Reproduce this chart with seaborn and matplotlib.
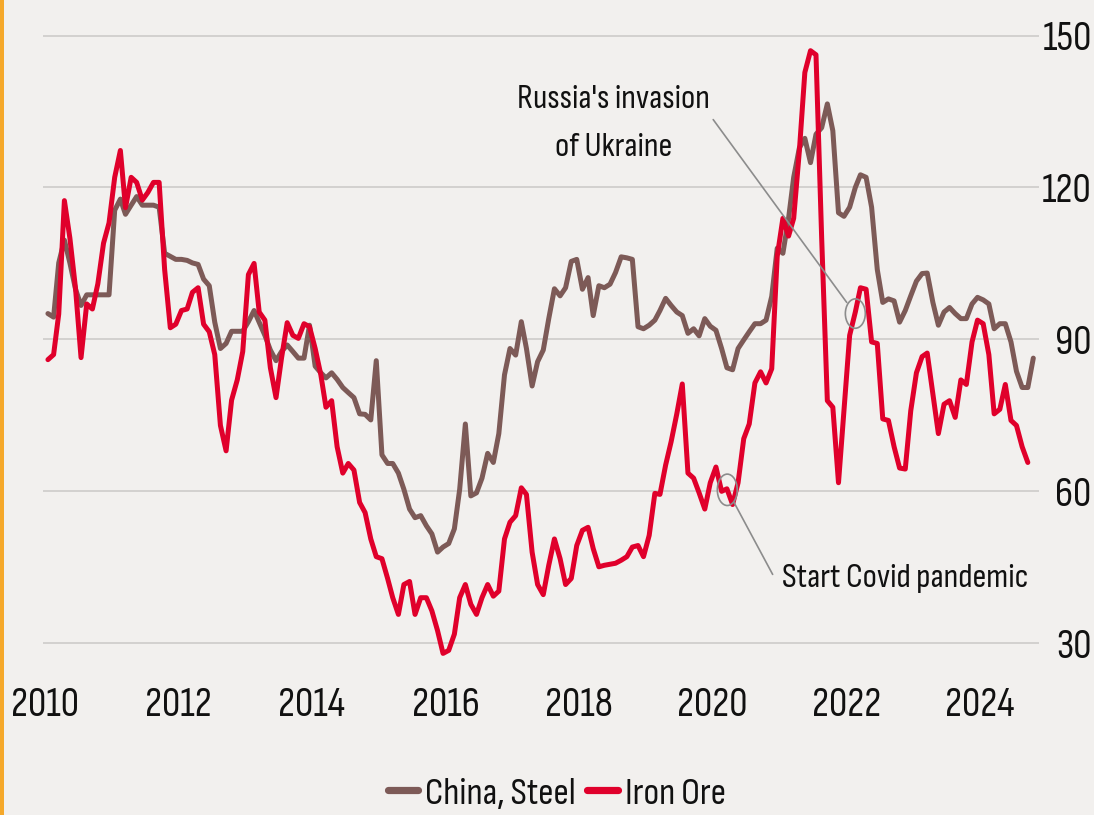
import pandas as pd
import numpy as np
import matplotlib
matplotlib.use("Agg")
import matplotlib.pyplot as plt
import matplotlib.dates as mdates
from matplotlib import font_manager
from matplotlib.font_manager import FontProperties
from matplotlib.textpath import TextPath
from matplotlib.patches import Ellipse, Rectangle
import seaborn as sns

# monthly index values
steel = [
    95.1, 94.4, 105.1, 109.6, 105.1, 99.9, 96.7, 98.8, 98.8, 98.8, 98.8, 98.8,          # 2010
    115.5, 117.7, 114.7, 116.5, 118.2, 116.5, 116.5, 116.5, 116.1, 107.0, 106.4, 105.8, # 2011
    105.8, 105.6, 105.1, 104.8, 101.9, 100.6, 93.4, 88.2, 89.2, 91.6, 91.6, 91.6,       # 2012
    93.5, 95.7, 93.4, 90.8, 87.9, 85.8, 87.6, 88.9, 87.6, 86.3, 86.3, 92.8,             # 2013
    84.7, 83.4, 82.4, 83.4, 82.1, 80.5, 79.5, 78.5, 75.3, 75.2, 74.1, 85.8,             # 2014
    67.2, 65.5, 65.5, 63.6, 60.4, 56.5, 54.8, 55.2, 53.2, 51.6, 48.0, 49.0,             # 2015
    49.7, 52.6, 60.4, 73.3, 59.1, 59.7, 62.6, 67.5, 65.7, 71.4, 83.0, 88.2,             # 2016
    86.9, 93.5, 88.2, 80.8, 85.6, 87.9, 94.1, 100.0, 98.6, 100.2, 105.4, 105.8,         # 2017
    99.9, 102.2, 94.7, 100.6, 100.2, 100.9, 103.2, 106.3, 106.1, 105.8, 92.5, 92.1,     # 2018
    92.8, 93.8, 95.7, 98.1, 96.7, 95.4, 94.7, 91.2, 92.1, 90.7, 94.1, 92.6,             # 2019
    91.8, 88.2, 84.4, 84.0, 88.2, 89.9, 91.5, 93.1, 93.1, 93.8, 98.5, 108.0,            # 2020
    107.0, 113.9, 122.0, 127.8, 129.7, 124.9, 130.5, 131.8, 136.5, 131.2, 115.0, 114.3, # 2021
    116.1, 120.0, 122.5, 122.0, 116.1, 103.8, 97.3, 98.0, 97.6, 93.4, 95.7, 98.6,       # 2022
    101.5, 103.0, 103.1, 97.3, 92.8, 95.4, 96.3, 95.1, 94.1, 94.1, 97.0, 98.3,          # 2023
    97.8, 97.0, 92.1, 93.1, 93.1, 89.5, 83.7, 80.5, 80.5, 86.3,                         # 2024
]

iron_ore = [
    86.0, 87.0, 95.0, 117.4, 110.0, 100.0, 86.4, 97.0, 96.0, 101.0, 109.0, 113.0,       # 2010
    122.0, 127.3, 116.0, 122.0, 121.0, 117.5, 119.0, 121.0, 121.0, 103.8, 92.3, 93.0,   # 2011
    95.7, 96.0, 99.3, 100.2, 93.0, 91.5, 87.0, 73.0, 68.0, 78.0, 82.0, 87.6,            # 2012
    102.8, 105.0, 95.4, 93.8, 84.4, 78.5, 86.3, 93.3, 90.8, 90.2, 93.1, 92.5,           # 2013
    88.2, 83.0, 76.6, 77.9, 68.8, 63.6, 65.5, 64.2, 57.8, 55.8, 50.6, 47.1,             # 2014
    46.7, 42.8, 39.0, 35.7, 41.6, 42.2, 35.7, 39.0, 39.0, 36.4, 32.5, 28.0,             # 2015
    28.6, 31.8, 39.0, 41.6, 37.7, 35.7, 39.0, 41.6, 39.3, 40.3, 50.6, 53.9,             # 2016
    55.2, 60.7, 59.4, 48.0, 41.6, 39.6, 45.4, 50.6, 46.7, 41.6, 42.8, 49.3,             # 2017
    52.3, 52.9, 48.7, 45.1, 45.4, 45.6, 45.8, 46.4, 47.1, 49.0, 49.3, 47.1,             # 2018
    51.3, 59.6, 59.4, 65.2, 69.8, 75.3, 81.2, 63.6, 62.6, 59.7, 56.5, 61.7,             # 2019
    64.8, 60.0, 60.5, 57.4, 61.7, 70.4, 73.3, 81.4, 83.6, 81.4, 84.2, 106.4,            # 2020
    113.9, 110.4, 113.9, 127.2, 142.7, 147.0, 146.2, 110.0, 77.9, 76.6, 61.7, 76.0,     # 2021
    90.8, 95.4, 100.2, 99.9, 89.5, 89.2, 74.3, 74.0, 68.8, 64.6, 64.4, 75.9,            # 2022
    83.4, 86.6, 87.3, 79.2, 71.4, 77.2, 77.9, 74.6, 82.0, 81.1, 89.5, 93.8,             # 2023
    93.1, 87.0, 75.3, 76.2, 81.1, 74.0, 73.0, 68.8, 65.7,                               # 2024
]

series_names = ["China, Steel", "Iron Ore"]
colors = ["#7d5a57", "#e0002b"]
y_ticks = [30, 60, 90, 120, 150]
x_years = list(range(2010, 2025, 2))

steel_dates = pd.date_range("2010-01-01", periods=len(steel), freq="MS")
ore_dates = pd.date_range("2010-01-01", periods=len(iron_ore), freq="MS")

df = pd.concat([
    pd.DataFrame({"date": steel_dates, "value": steel, "series": series_names[0]}),
    pd.DataFrame({"date": ore_dates, "value": iron_ore, "series": series_names[1]}),
])

# pick a narrow sans face close to the original lettering:
# "2010" ~2.17x as wide as a capital is tall, stems ~0.11 of cap height
skip_words = ("Bold", "Black", "Heavy", "Medium", "Thin", "ExtraLight", "Mono",
              "Serif", "CJK", "Italic", "Oblique")
best = None
for f in font_manager.fontManager.ttflist:
    st = f.stretch if isinstance(f.stretch, str) else str(f.stretch)
    is_narrow = ("Condensed" in f.name or "Narrow" in f.name
                 or "Condensed" in f.fname or "Narrow" in f.fname
                 or st in ("condensed", "semi-condensed", "extra-condensed")
                 or (st.isdigit() and int(st) <= 87))
    if not is_narrow or f.style != "normal":
        continue
    if any(wd in f.name or wd in f.fname.split("/")[-1] for wd in skip_words):
        continue
    try:
        p = FontProperties(fname=f.fname)
        w = TextPath((0, 0), "2010", size=100, prop=p).get_extents().width
        h = TextPath((0, 0), "H", size=100, prop=p).get_extents().height
        stem = TextPath((0, 0), "l", size=100, prop=p).get_extents().width
    except Exception:
        continue
    score = abs(np.log((w / h) / 2.17)) + abs(np.log((stem / h) / 0.11))
    if best is None or score < best[0]:
        best = (score, f.fname, h)

if best is not None:
    base_prop = FontProperties(fname=best[1])
    cap100 = best[2]
else:
    base_prop = FontProperties(family="Roboto")
    cap100 = 71.1

bg = "#f2f0ee"
sns.set_style("white")
plt.rcParams["font.family"] = ["Roboto", "DejaVu Sans"]
plt.rcParams["text.color"] = "#111111"

fig = plt.figure(figsize=(10.94, 8.15), dpi=100, facecolor=bg)
renderer = fig.canvas.get_renderer()


def fprop(size):
    p = base_prop.copy()
    p.set_size(size)
    return p


def fit_size(sample, target_w, target_cap):
    # mostly match the width, partly the letter height
    t = fig.text(0, 0, sample, fontproperties=fprop(20))
    w = t.get_window_extent(renderer).width
    t.remove()
    s_w = 20 * target_w / w
    s_h = 72 * target_cap / cap100
    return s_w ** 0.7 * s_h ** 0.3


tick_fs = fit_size("2010", 65, 30)
leg_fs = fit_size("China, Steel", 139, 30)
ann_fs = fit_size("Russia's invasion", 181, 26)

ax = fig.add_axes([0.0393, 0.1672, 0.9104, 0.8203])
ax.set_facecolor(bg)

sns.lineplot(data=df, x="date", y="value", hue="series", hue_order=series_names,
             palette=dict(zip(series_names, colors)), linewidth=3.6, ax=ax,
             legend=True)

ax.set_ylim(23, 155)
ax.set_xlim(pd.Timestamp("2009-12-05"), pd.Timestamp("2024-11-01"))
ax.set_yticks(y_ticks)
ax.set_yticklabels([str(v) for v in y_ticks])
ax.yaxis.tick_right()
ax.tick_params(axis="y", length=0, pad=38, labelcolor="#111111")
for lab in ax.get_yticklabels():
    lab.set_horizontalalignment("right")
    lab.set_fontproperties(fprop(tick_fs))
ax.set_xticks([pd.Timestamp(f"{y}-01-01") - pd.Timedelta(days=18) for y in x_years])
ax.set_xticklabels([str(y) for y in x_years])
ax.tick_params(axis="x", length=0, pad=6, labelcolor="#111111")
for lab in ax.get_xticklabels():
    lab.set_fontproperties(fprop(tick_fs))
ax.set_xlabel("")
ax.set_ylabel("")
ax.grid(axis="y", color="#cdcbc9", linewidth=1.2)
ax.grid(axis="x", visible=False)
for s in ax.spines.values():
    s.set_visible(False)

# annotations
circ_col = "#8c8c8c"
d2n = mdates.date2num
ax.add_patch(Ellipse((d2n(pd.Timestamp("2020-03-03")), 60.3), 109, 6.2,
                     fill=False, edgecolor=circ_col, linewidth=1.2, zorder=5))
ax.add_patch(Ellipse((d2n(pd.Timestamp("2022-02-01")), 95.1), 109, 5.8,
                     fill=False, edgecolor=circ_col, linewidth=1.2, zorder=5))
ax.annotate("", xy=(d2n(pd.Timestamp("2021-12-16")), 97.3),
            xytext=(d2n(pd.Timestamp("2019-12-17")), 133.4),
            arrowprops=dict(arrowstyle="-", color=circ_col, lw=1.2,
                            shrinkA=0, shrinkB=0))
ax.annotate("", xy=(d2n(pd.Timestamp("2020-04-09")), 57.8),
            xytext=(d2n(pd.Timestamp("2020-11-06")), 43.6),
            arrowprops=dict(arrowstyle="-", color=circ_col, lw=1.2,
                            shrinkA=0, shrinkB=0))
ann_x = d2n(pd.Timestamp("2018-06-22"))
ax.text(ann_x, 135.6, "Russia's invasion", ha="center", va="baseline",
        fontproperties=fprop(ann_fs), color="#111111")
ax.text(ann_x, 126.2, "of Ukraine", ha="center", va="baseline",
        fontproperties=fprop(ann_fs), color="#111111")
ax.text(d2n(pd.Timestamp("2020-12-26")), 41.2, "Start Covid pandemic",
        ha="left", va="baseline", fontproperties=fprop(ann_fs), color="#111111")

# legend
handles, labels = ax.get_legend_handles_labels()
ax.get_legend().remove()
for h in handles:
    h.set_linewidth(5.2)
fig.legend(handles, labels, loc="center", bbox_to_anchor=(0.509, 0.026), ncol=2,
           frameon=False, prop=fprop(leg_fs), handlelength=0.8, handletextpad=0.18,
           columnspacing=0.3)

# orange accent strip on the left edge
fig.patches.append(Rectangle((0, 0), 4 / 1094, 1, transform=fig.transFigure,
                             facecolor="#f5a82a", edgecolor="none"))

fig.savefig("out.png", dpi=100, facecolor=bg)
